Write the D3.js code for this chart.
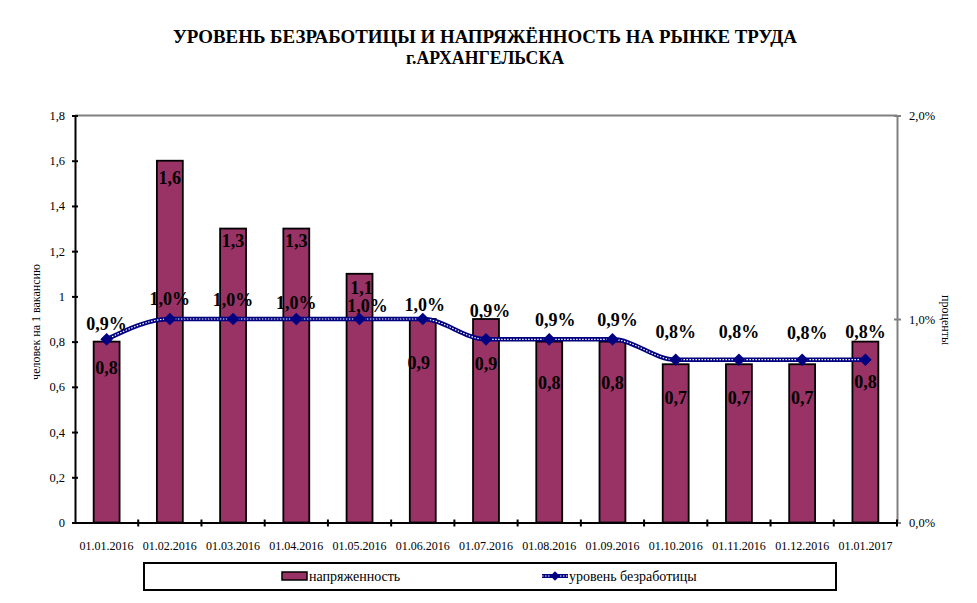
<!DOCTYPE html>
<html><head><meta charset="utf-8">
<script src="https://cdn.jsdelivr.net/npm/d3@7/dist/d3.min.js"></script>
<style>
body{margin:0;background:#fff;}
svg text{font-family:'Liberation Serif','Times New Roman',Tinos,'DejaVu Serif','Noto Serif',serif !important;}
</style></head>
<body>
<svg id="c" width="977" height="603"></svg>
<script>
// ---- data ----
const categories = ["01.01.2016","01.02.2016","01.03.2016","01.04.2016","01.05.2016","01.06.2016","01.07.2016","01.08.2016","01.09.2016","01.10.2016","01.11.2016","01.12.2016","01.01.2017"];
const tension = [0.8,1.6,1.3,1.3,1.1,0.9,0.9,0.8,0.8,0.7,0.7,0.7,0.8];        // напряженность
const unemployment = [0.009,0.010,0.010,0.010,0.010,0.010,0.009,0.009,0.009,0.008,0.008,0.008,0.008]; // уровень безработицы
const leftTicks = [0,0.2,0.4,0.6,0.8,1,1.2,1.4,1.6,1.8];
const rightTicks = [0,0.01,0.02];
const titleLines = ["УРОВЕНЬ БЕЗРАБОТИЦЫ И НАПРЯЖЁННОСТЬ НА РЫНКЕ ТРУДА","г.АРХАНГЕЛЬСКА"];
const seriesNames = ["напряженность","уровень безработицы"];
const leftTitle = "человек на 1 вакансию";
const rightTitle = "проценты";

// ---- layout (label placement, pixels) ----
const barLabelDy = [26,17,12,12,14,44,45,41,41,33,33,33,40];
const barLabelDx = [0,0,0,0,2,-4,0,0,0,0,0,0,0];
const pctLabelDy = [-16,-20,-19,-16,-13,-14,-29,-20,-20,-28,-28,-27,-28];
const pctLabelDx = [0,0,0,0,8,2,4,6,5,0,0,5,0];

const svg = d3.select("#c");
const L = 75, R = 897, T = 115.5, B = 522.5;
const fmtNum = d => String(d).replace(".", ",");
const fmtPct = d => (d*100).toFixed(1).replace(".", ",") + "%";

const x = d3.scaleBand().domain(categories).range([L, R]).padding(0);
const y = d3.scaleLinear().domain([0, 1.8]).range([B, T]);
const y2 = d3.scaleLinear().domain([0, 0.02]).range([B, T]);
const barW = x.bandwidth() * 0.41;
const cx = c => x(c) + x.bandwidth()/2;

// title
svg.append("g").selectAll("text").data(titleLines).join("text")
  .attr("x", 485).attr("y", (d,i) => 42.5 + i*21.5)
  .attr("text-anchor","middle").attr("font-weight","bold").attr("font-size", 18)
  .attr("textLength", (d,i) => i===0 ? 624 : 158).attr("lengthAdjust","spacingAndGlyphs")
  .text(d => d);

// top border line (grey)
svg.append("line").attr("x1", L).attr("x2", R).attr("y1", y(1.8)).attr("y2", y(1.8))
  .attr("stroke","#808080").attr("stroke-width",2);

// bars
svg.append("g").selectAll("rect").data(categories).join("rect")
  .attr("x", c => cx(c) - barW/2).attr("width", barW)
  .attr("y", (c,i) => y(tension[i])).attr("height", (c,i) => B - y(tension[i]))
  .attr("fill","#993366").attr("stroke","#000").attr("stroke-width",1.8);

// left axis
const gl = svg.append("g").attr("transform", `translate(${L},0)`)
  .call(d3.axisLeft(y).tickValues(leftTicks).tickFormat(fmtNum).tickSize(0).tickPadding(10));
gl.select(".domain").attr("stroke","#000").attr("stroke-width",2);
gl.selectAll(".tick line").attr("x1",-3).attr("x2",3).attr("stroke","#000").attr("stroke-width",2);
gl.selectAll(".tick text").attr("font-size",12.5).attr("fill","#000");

// right axis
const gr = svg.append("g").attr("transform", `translate(${R},0)`)
  .call(d3.axisRight(y2).tickValues(rightTicks).tickFormat(fmtPct).tickSize(0).tickPadding(12));
gr.select(".domain").attr("stroke","#808080").attr("stroke-width",2);
gr.selectAll(".tick line").attr("x1",-3).attr("x2",4).attr("stroke","#808080").attr("stroke-width",2);
gr.selectAll(".tick text").attr("font-size",12.5).attr("fill","#000");

// bottom axis
const gb = svg.append("g").attr("transform", `translate(0,${B})`)
  .call(d3.axisBottom(x).tickSize(0).tickPadding(19));
gb.select(".domain").attr("stroke","#000").attr("stroke-width",2);
gb.selectAll(".tick line").remove();
gb.selectAll(".tick text").attr("font-size",12).attr("fill","#000");
// boundary ticks
svg.append("g").selectAll("line").data(categories.slice(1).concat(["__end"])).join("line")
  .attr("x1", c => c==="__end" ? R : x(c)).attr("x2", c => c==="__end" ? R : x(c))
  .attr("y1", B-3).attr("y2", B+4).attr("stroke","#000").attr("stroke-width",2);

// axis titles
svg.append("text").attr("transform","translate(40,322) rotate(-90)")
  .attr("text-anchor","middle").attr("font-size",12).text(leftTitle);
svg.append("text").attr("transform","translate(942,320) rotate(90)")
  .attr("text-anchor","middle").attr("font-size",12).text(rightTitle);

// line
const line = d3.line().x((d,i) => cx(categories[i])).y(d => y2(d)).curve(d3.curveMonotoneX);
svg.append("path").datum(unemployment).attr("d", line)
  .attr("fill","none").attr("stroke","#000080").attr("stroke-width",4.5);
svg.append("path").datum(unemployment).attr("d", line)
  .attr("fill","none").attr("stroke","#fff").attr("stroke-width",1.2).attr("stroke-dasharray","1.5,1.5");

// markers
const diamond = d3.symbol().type(d3.symbolSquare).size(80);
svg.append("g").selectAll("path").data(unemployment).join("path")
  .attr("d", diamond)
  .attr("transform", (d,i) => `translate(${cx(categories[i])},${y2(d)}) rotate(45)`)
  .attr("fill","#000080");

// bar labels
svg.append("g").selectAll("text").data(tension).join("text")
  .attr("x", (d,i) => cx(categories[i]) + barLabelDx[i])
  .attr("y", (d,i) => y(d) + barLabelDy[i])
  .attr("dy","0.35em").attr("text-anchor","middle")
  .attr("font-weight","bold").attr("font-size",18).text(d => fmtNum(d));

// percent labels
svg.append("g").selectAll("text").data(unemployment).join("text")
  .attr("x", (d,i) => cx(categories[i]) + pctLabelDx[i])
  .attr("y", (d,i) => y2(d) + pctLabelDy[i])
  .attr("dy","0.35em").attr("text-anchor","middle")
  .attr("font-weight","bold").attr("font-size",18).text(d => fmtPct(d));

// legend
const lg = svg.append("g");
lg.append("rect").attr("x",144).attr("y",563).attr("width",692).attr("height",27)
  .attr("fill","#fff").attr("stroke","#000").attr("stroke-width",2);
lg.append("rect").attr("x",282).attr("y",572).attr("width",25).attr("height",8)
  .attr("fill","#993366").attr("stroke","#000").attr("stroke-width",1.5);
lg.append("text").attr("x",309).attr("y",581).attr("font-size",14).text(seriesNames[0]);
lg.append("line").attr("x1",542).attr("x2",568).attr("y1",576).attr("y2",576)
  .attr("stroke","#000080").attr("stroke-width",4);
lg.append("line").attr("x1",542).attr("x2",568).attr("y1",576).attr("y2",576)
  .attr("stroke","#fff").attr("stroke-width",1).attr("stroke-dasharray","1.5,1.5");
lg.append("path").attr("d", d3.symbol().type(d3.symbolSquare).size(45))
  .attr("transform","translate(555,576) rotate(45)").attr("fill","#000080");
lg.append("text").attr("x",569).attr("y",581).attr("font-size",14).text(seriesNames[1]);
</script>
</body></html>
